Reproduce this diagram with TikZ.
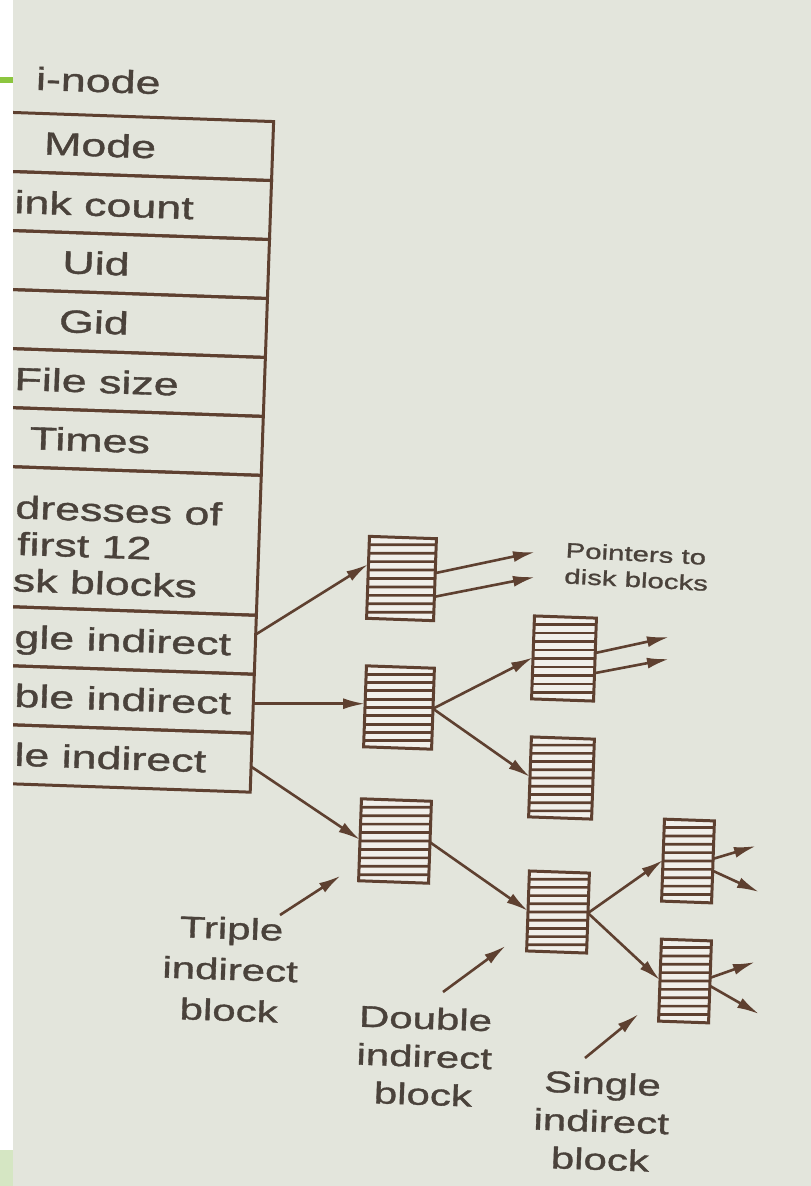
\documentclass[tikz,border=0pt]{standalone}
\usepackage{fontspec}
\setmainfont{Liberation Sans}[FakeStretch=1.4, FakeBold=1.2]
\usetikzlibrary{arrows.meta,positioning,calc}

\definecolor{paper}{HTML}{E3E5DC}
\definecolor{ink}{HTML}{5E4030}
\definecolor{print}{HTML}{4A423B}
\definecolor{slidegreen}{HTML}{8CC63F}
\definecolor{palegreen}{HTML}{D5E6C3}
\definecolor{gap}{HTML}{F1EFEA}

\newcommand{\rowfont}{\fontsize{32}{38}\selectfont}
\newcommand{\tagfont}{\fontsize{30}{38}\selectfont}
\newcommand{\notefont}{\fontsize{21}{26}\selectfont}

\tikzset{
  field/.style={draw=ink, line width=3pt, minimum width=345pt, minimum height=59pt,
    inner sep=0pt, outer sep=0pt, text=print, font=\rowfont},
  cut/.style={anchor=base west, yshift=-9pt, rotate=-2, inner sep=0pt, text=print, font=\rowfont},
  blk/.style={draw=ink, line width=3pt, fill=gap, minimum width=#1, minimum height=82pt,
    inner sep=0pt, outer sep=0pt, rotate=-2,
    path picture={\foreach \k in {1,...,9}
      \draw[ink, line width=2.7pt]
        ($(path picture bounding box.north west)!\k/10!(path picture bounding box.south west)$) --
        ($(path picture bounding box.north east)!\k/10!(path picture bounding box.south east)$);}},
  blk/.default=64pt,
  ptr/.style={color=ink, line width=2.6pt, -{Latex[length=22pt,width=11pt]}},
  tag/.style={inner sep=0pt, text=print, font=\tagfont, align=center, anchor=north, rotate=-2},
}

\begin{document}
\begin{tikzpicture}[x=1pt, y=-1pt]
  \useasboundingbox (0,0) rectangle (811,1186);
  \fill[white] (0,0) rectangle (13,1186);
  \fill[paper] (13,0) rectangle (811,1186);
  \fill[slidegreen] (0,77) rectangle (13,83);
  \fill[palegreen] (0,1150) rectangle (13,1186);
  \coordinate (edge) at (14,0);

  \draw (98,92) node[anchor=base, inner sep=0pt, text=print, font=\rowfont, rotate=-2] (title) {i-node};

  % the i-node table runs off the left edge of the page
  \begin{scope}
    \clip (13,0) rectangle (811,1186);
    \begin{scope}[rotate around={-2:(137,452)}, transform shape]
    \draw (89.5,146.5) node[field] (mode) {Mode};
    \node[field, below=0pt of mode] (lnk) {};
    \node[field, below=0pt of lnk] (uid) {Uid};
    \node[field, below=0pt of uid] (gid) {Gid};
    \node[field, below=0pt of gid] (fsize) {};
    \node[field, below=0pt of fsize] (times) {Times};
    \node[field, minimum height=140pt, below=0pt of times] (addr) {};
    \node[field, below=0pt of addr] (sgl) {};
    \node[field, below=0pt of sgl] (dbl) {};
    \node[field, below=0pt of dbl] (trp) {};
    \end{scope}

    \node[cut] at (lnk.center -| edge) {ink count};
    \node[cut] at (fsize.center -| edge) {File size};
    \node[anchor=west, yshift=-4pt, rotate=-2, inner sep=0pt, text=print, align=left,
      font={\fontsize{32}{36.5}\selectfont}] at (addr.center -| edge)
      {dresses of\\\hspace{3pt}first 12\\sk blocks};
    \node[cut] at (sgl.center -| edge) {gle indirect};
    \node[cut] at (dbl.center -| edge) {ble indirect};
    \node[cut] at (trp.center -| edge) {le indirect};
  \end{scope}

  % indirect blocks
  \draw (401.5,578.5) node[blk=67pt] (sib) {};
  \draw (399,707.5) node[blk=68pt, minimum height=81pt] (dib) {};
  \draw (564,658.5) node[blk=62pt, minimum height=83pt] (dsib1) {};
  \draw (561.5,778) node[blk=63pt, minimum height=80pt] (dsib2) {};
  \draw (395,841) node[blk=70pt] (tib) {};
  \draw (558,912) node[blk=60pt, minimum height=80pt] (tdib) {};
  \draw (688,861) node[blk=50pt] (tsib1) {};
  \draw (685,981) node[blk=50pt] (tsib2) {};

  % loose ends of the pointers to data blocks
  \coordinate (sibout1) at (535,552);
  \coordinate (sibout2) at (535,577);
  \coordinate (dsibout1) at (669,637);
  \coordinate (dsibout2) at (669,659);
  \coordinate (tsibout1) at (756,846);
  \coordinate (tsibout2) at (759,892);
  \coordinate (tsibout3) at (755,962);
  \coordinate (tsibout4) at (759,1014);

  \draw (566,542) node[anchor=north west, inner sep=0pt, text=print, font=\notefont,
    align=left, rotate=-3] (ptrs) {Pointers to\\disk blocks};

  \path[ptr] ([yshift=10pt]sgl.east) edge ([yshift=13pt]sib.west);
  \path[ptr] ([yshift=6.5pt]sib.east) edge (sibout1);
  \path[ptr] ([yshift=-17pt]sib.east) edge (sibout2);

  \path[ptr] (dbl.east) edge (dbl.east -| dib.west);
  \path[ptr] (dib.east) edge (dsib1.west);
  \path[ptr] (dib.east) edge (dsib2.west);
  \path[ptr] ([yshift=6.5pt]dsib1.east) edge (dsibout1);
  \path[ptr] ([yshift=-13.5pt]dsib1.east) edge (dsibout2);

  \path[ptr] ([yshift=-4pt]trp.east) edge (tib.west);
  \path[ptr] (tib.east) edge (tdib.west);
  \path[ptr] (tdib.east) edge (tsib1.west);
  \path[ptr] (tdib.east) edge (tsib2.west);
  \path[ptr] ([yshift=3pt]tsib1.east) edge (tsibout1);
  \path[ptr] ([yshift=-9pt]tsib1.east) edge (tsibout2);
  \path[ptr] ([yshift=4pt]tsib2.east) edge (tsibout3);
  \path[ptr] ([yshift=-4pt]tsib2.east) edge (tsibout4);

  % names of the block kinds
  \draw (232,917) node[tag, font={\fontsize{30}{41}\selectfont}] (tlab) {Triple\\indirect\\block};
  \draw (426,1007) node[tag] (dlab) {Double\\indirect\\block};
  \draw (603,1072) node[tag] (slab) {Single\\indirect\\block};

  \path[ptr] ([xshift=48pt,yshift=2pt]tlab.north) edge ([xshift=-18pt,yshift=5pt]tib.south west);
  \path[ptr] ([xshift=17pt,yshift=15pt]dlab.north) edge ([xshift=-21pt,yshift=5pt]tdib.south west);
  \path[ptr] ([xshift=-18pt,yshift=14pt]slab.north) edge ([xshift=-20pt,yshift=7pt]tsib2.south west);
\end{tikzpicture}
\end{document}
